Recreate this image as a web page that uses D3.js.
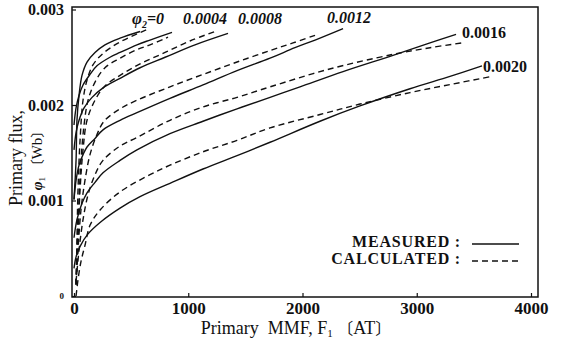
<!DOCTYPE html>
<html>
<head>
<meta charset="utf-8">
<script src="https://cdn.jsdelivr.net/npm/d3@7"></script>
<style>
  html, body { margin: 0; padding: 0; background: #fff; }
  svg { display: block; }
  text { font-family: "Liberation Serif", "DejaVu Serif", serif; fill: #111; }
</style>
</head>
<body>
<svg id="chart" width="561" height="338"></svg>
<script>
// secondary flux values, one pair of curves for each
const phi2Labels = ["0", "0.0004", "0.0008", "0.0012", "0.0016", "0.0020"];

// measured curves: [F1 (AT), phi1 (Wb)]
const measured0 = [[0, 0.00101], [18, 0.00142], [26, 0.00184], [44, 0.00210], [70, 0.00231], [114, 0.00245], [184, 0.00255], [271, 0.00263], [403, 0.00270], [578, 0.00277]];
const measured4 = [[0, 0.00179], [18, 0.00197], [44, 0.00210], [79, 0.00221], [140, 0.00232], [201, 0.00241], [315, 0.00250], [403, 0.00255], [551, 0.00263], [665, 0.00268], [858, 0.00276]];
const measured8 = [[0, 0.00153], [18, 0.00171], [44, 0.00184], [88, 0.00197], [158, 0.00208], [254, 0.00218], [403, 0.00228], [578, 0.00239], [797, 0.00250], [1059, 0.00263], [1348, 0.00275]];
const measured12 = [[0, 0.00101], [18, 0.00121], [44, 0.00137], [79, 0.00148], [114, 0.00156], [184, 0.00165], [254, 0.00174], [403, 0.00184], [551, 0.00192], [840, 0.00207], [1129, 0.00221], [1427, 0.00236], [1716, 0.00249], [1934, 0.00260], [2110, 0.00268], [2355, 0.00280]];
const measured16 = [[0, 0.00061], [26, 0.00080], [70, 0.00097], [114, 0.00108], [184, 0.00119], [254, 0.00129], [403, 0.00142], [551, 0.00153], [840, 0.00170], [1129, 0.00183], [1427, 0.00196], [1716, 0.00208], [1978, 0.00219], [2355, 0.00235], [2792, 0.00252], [3116, 0.00265], [3344, 0.00274]];
const measured20 = [[0, 0.00029], [18, 0.00041], [53, 0.00052], [123, 0.00065], [228, 0.00077], [403, 0.00092], [578, 0.00104], [840, 0.00118], [1129, 0.00133], [1427, 0.00147], [1716, 0.00161], [2153, 0.00183], [2503, 0.00199], [2941, 0.00217], [3291, 0.00230], [3571, 0.00241]];

// calculated curves
const calculated0 = [[18, 0.00012], [26, 0.00059], [35, 0.00111], [53, 0.00163], [79, 0.00205], [114, 0.00226], [166, 0.00242], [254, 0.00254], [403, 0.00266], [639, 0.00279]];
const calculated4 = [[18, 0.00012], [26, 0.00048], [44, 0.00101], [61, 0.00142], [88, 0.00179], [123, 0.00205], [184, 0.00224], [271, 0.00239], [403, 0.00249], [551, 0.00258], [665, 0.00263], [823, 0.00271]];
const calculated8 = [[18, 0.00012], [35, 0.00059], [53, 0.00111], [79, 0.00153], [114, 0.00184], [184, 0.00205], [271, 0.00220], [403, 0.00231], [578, 0.00243], [797, 0.00255], [1015, 0.00267], [1234, 0.00277]];
const calculated12 = [[18, 0.00012], [35, 0.00048], [61, 0.00090], [96, 0.00121], [140, 0.00148], [201, 0.00169], [263, 0.00183], [403, 0.00196], [551, 0.00205], [840, 0.00219], [1129, 0.00232], [1427, 0.00245], [1716, 0.00257], [1917, 0.00265], [2110, 0.00273]];
const calculated16 = [[18, 0.00015], [44, 0.00048], [79, 0.00080], [123, 0.00106], [184, 0.00127], [254, 0.00142], [403, 0.00157], [551, 0.00166], [840, 0.00184], [1129, 0.00198], [1427, 0.00208], [1716, 0.00219], [2215, 0.00237], [2792, 0.00253], [3116, 0.00260], [3396, 0.00265]];
const calculated20 = [[18, 0.00000], [35, 0.00017], [61, 0.00036], [96, 0.00053], [140, 0.00074], [228, 0.00090], [403, 0.00109], [665, 0.00127], [840, 0.00137], [1129, 0.00151], [1427, 0.00163], [1716, 0.00176], [2153, 0.00190], [2503, 0.00201], [2941, 0.00213], [3317, 0.00222], [3659, 0.00230]];

const measuredSeries = [measured0, measured4, measured8, measured12, measured16, measured20];
const calculatedSeries = [calculated0, calculated4, calculated8, calculated12, calculated16, calculated20];

const xTicks = [0, 1000, 2000, 3000, 4000];
const yTicks = [0, 0.001, 0.002, 0.003];
const legendLabels = ["MEASURED :", "CALCULATED :"];

const svg = d3.select("#chart");
const CJK = "'Noto Sans CJK JP', sans-serif";

const x = d3.scaleLinear().domain([0, 4000]).range([74, 531]);
const y = d3.scaleLinear().domain([0, 0.003]).range([296, 9.5]);

// frame
svg.append("rect")
  .attr("x", 72).attr("y", 7)
  .attr("width", 466).attr("height", 290)
  .attr("fill", "none").attr("stroke", "#111").attr("stroke-width", 1.5);

// x axis
const xAxis = svg.append("g")
  .attr("transform", "translate(0,297)")
  .call(d3.axisBottom(x).tickValues(xTicks).tickSize(-4).tickPadding(5).tickFormat(d3.format("d")));
xAxis.select(".domain").remove();
xAxis.selectAll("line").attr("stroke", "#111").attr("stroke-width", 1.2);
xAxis.selectAll("text")
  .attr("fill", "#111")
  .style("fill", "#111")
  .style("font-family", "'Liberation Serif', serif")
  .style("font-size", "17px").style("font-weight", "bold");

// y axis
const yAxis = svg.append("g")
  .attr("transform", "translate(72,0)")
  .call(d3.axisLeft(y).tickValues(yTicks).tickSize(-4).tickPadding(8)
    .tickFormat(d => d === 0 ? "0" : d3.format(".3f")(d)));
yAxis.select(".domain").remove();
yAxis.selectAll("line").attr("stroke", "#111").attr("stroke-width", 1.2);
yAxis.selectAll("text")
  .attr("fill", "#111")
  .style("fill", "#111")
  .style("font-family", "'Liberation Serif', serif")
  .style("font-size", d => d === 0 ? "9px" : "16px")
  .style("font-weight", "bold");

// curves
const line = d3.line()
  .x(d => x(d[0]))
  .y(d => y(d[1]))
  .curve(d3.curveCatmullRom.alpha(0.5));

svg.append("g").selectAll("path.measured")
  .data(measuredSeries)
  .join("path")
  .attr("class", "measured")
  .attr("d", line)
  .attr("fill", "none").attr("stroke", "#111").attr("stroke-width", 1.4);

svg.append("g").selectAll("path.calculated")
  .data(calculatedSeries)
  .join("path")
  .attr("class", "calculated")
  .attr("d", line)
  .attr("fill", "none").attr("stroke", "#111").attr("stroke-width", 1.4)
  .attr("stroke-dasharray", "6,4");

// curve labels, placed near the end of each measured curve
const labelOffsets = [[-8, -7], [11, -8], [10, -9], [-16, -6], [6, 4], [1, 6]];
const labels = svg.append("g")
  .style("font-size", "16px").style("font-weight", "bold");

phi2Labels.forEach((lab, i) => {
  const end = measuredSeries[i][measuredSeries[i].length - 1];
  const t = labels.append("text")
    .attr("x", x(end[0]) + labelOffsets[i][0])
    .attr("y", y(end[1]) + labelOffsets[i][1]);
  if (i < 4) t.style("font-style", "italic");
  if (i === 0) {
    t.append("tspan").style("font-size", "17px").text("φ");
    t.append("tspan").attr("dy", 4).style("font-size", "10px").text("2");
    t.append("tspan").attr("dy", -4).text("=" + lab);
  } else {
    t.text(lab);
  }
});

// legend
const legend = svg.append("g")
  .style("font-size", "16px").style("font-weight", "bold").style("letter-spacing", "0.8px");
legendLabels.forEach((lab, i) => {
  const ly = 247 + i * 17;
  legend.append("text")
    .attr("x", 461).attr("y", ly)
    .attr("text-anchor", "end")
    .text(lab);
  legend.append("line")
    .attr("x1", 472).attr("x2", 519)
    .attr("y1", ly - 3).attr("y2", ly - 3)
    .attr("stroke", "#111").attr("stroke-width", 1.4)
    .attr("stroke-dasharray", i === 0 ? null : "6,4");
});

// axis titles
svg.append("text")
  .attr("x", 296).attr("y", 334)
  .attr("text-anchor", "middle")
  .style("font-size", "18px")
  .style("white-space", "pre")
  .call(t => {
    t.append("tspan").text("Primary  MMF, F");
    t.append("tspan").attr("dy", 3).style("font-size", "11px").text("1");
    t.append("tspan").attr("dy", -3).text(" ");
    t.append("tspan").style("font-family", CJK).style("font-size", "16px").text("〔");
    t.append("tspan").text("AT");
    t.append("tspan").style("font-family", CJK).style("font-size", "16px").text("〕");
  });

svg.append("text")
  .attr("transform", "translate(22,158) rotate(-90)")
  .attr("text-anchor", "middle")
  .style("font-size", "18px")
  .text("Primary flux,");

svg.append("text")
  .attr("transform", "translate(42,157) rotate(-90)")
  .attr("text-anchor", "middle")
  .style("font-size", "15px")
  .style("white-space", "pre")
  .call(t => {
    t.append("tspan").style("font-weight", "bold").style("font-style", "italic").text("φ");
    t.append("tspan").attr("dy", 3).style("font-size", "9px").text("1");
    t.append("tspan").attr("dy", -3).text(" ");
    t.append("tspan").style("font-family", CJK).style("font-size", "14px").text("〔");
    t.append("tspan").text("Wb");
    t.append("tspan").style("font-family", CJK).style("font-size", "14px").text("〕");
  });
</script>
</body>
</html>
